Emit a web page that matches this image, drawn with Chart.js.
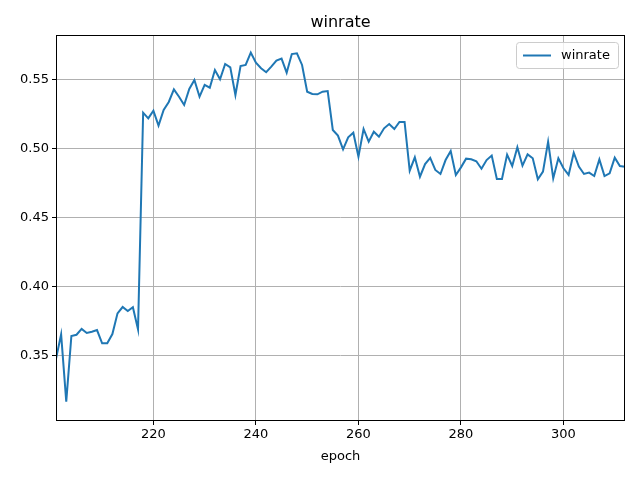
<!DOCTYPE html>
<html>
<head>
<meta charset="utf-8">
<script src="https://cdn.jsdelivr.net/npm/chart.js@4/dist/chart.umd.min.js"></script>
<style>
  body { margin: 0; background: #fff; }
  #wrap { width: 640px; height: 478px; }
</style>
</head>
<body>
<div id="wrap"><canvas id="myChart" width="640" height="478"></canvas></div>
<script>
const startEpoch = 201;
const winrate = [
  0.348, 0.3657, 0.3169, 0.3645, 0.3654, 0.3696, 0.3667, 0.3676, 0.3688, 0.3592,
  0.3592, 0.3659, 0.3809, 0.3855, 0.3826, 0.3853, 0.3693, 0.5263, 0.5222, 0.5278,
  0.5169, 0.5283, 0.5341, 0.5432, 0.5379, 0.5319, 0.5435, 0.55, 0.5379, 0.5464,
  0.5444, 0.5572, 0.5505, 0.5616, 0.5592, 0.5391, 0.5601, 0.5609, 0.5698, 0.5625,
  0.5585, 0.5556, 0.5597, 0.564, 0.5655, 0.5553, 0.5688, 0.5693, 0.5609, 0.5415,
  0.5399, 0.5396, 0.5415, 0.542, 0.5138, 0.5097, 0.4998, 0.5085, 0.5118, 0.4944,
  0.5145, 0.5053, 0.5125, 0.5089, 0.515, 0.5181, 0.5145, 0.5196, 0.5196, 0.4843,
  0.494, 0.4799, 0.4891, 0.4935, 0.4848, 0.4819, 0.492, 0.4986, 0.4812, 0.4867,
  0.493, 0.4925, 0.4911, 0.4857, 0.492, 0.4952, 0.4783, 0.4783, 0.4959, 0.4877,
  0.5012, 0.4879, 0.4961, 0.4933, 0.478, 0.4836, 0.5053, 0.4787, 0.4933, 0.486,
  0.4812, 0.4973, 0.4872, 0.4819, 0.4829, 0.4804, 0.4925, 0.4804, 0.4824, 0.4937,
  0.4877, 0.4872
];
const xTicks = [220, 240, 260, 280, 300];
const yTicks = [0.35, 0.40, 0.45, 0.50, 0.55];

const points = winrate.map((v, i) => ({ x: startEpoch + i, y: v }));
const FONT = "'DejaVu Sans', sans-serif";

// frame, title, axis label and legend drawn matplotlib-style
const decorations = {
  id: "decorations",
  afterDraw(chart) {
    const ctx = chart.ctx;
    const a = chart.chartArea;
    ctx.save();
    ctx.strokeStyle = "#000";
    ctx.lineWidth = 1;
    ctx.strokeRect(a.left + 0.5, a.top + 0.5, a.right - a.left - 1, a.bottom - a.top - 1);

    ctx.fillStyle = "#000";
    ctx.textAlign = "center";
    ctx.textBaseline = "alphabetic";
    ctx.font = "16px " + FONT;
    ctx.fillText("winrate", (a.left + a.right) / 2, 27);
    ctx.font = "13px " + FONT;
    ctx.fillText("epoch", (a.left + a.right) / 2, 460);

    // legend box
    const bx = 516, by = 42, bw = 102, bh = 26;
    ctx.fillStyle = "rgba(255,255,255,0.8)";
    ctx.strokeStyle = "#cccccc";
    ctx.beginPath();
    ctx.roundRect(bx + 0.5, by + 0.5, bw, bh, 3);
    ctx.fill();
    ctx.stroke();
    ctx.strokeStyle = "#1f77b4";
    ctx.lineWidth = 2;
    ctx.beginPath();
    ctx.moveTo(bx + 7, by + 13.5);
    ctx.lineTo(bx + 35, by + 13.5);
    ctx.stroke();
    ctx.fillStyle = "#000";
    ctx.textAlign = "left";
    ctx.textBaseline = "middle";
    ctx.fillText("winrate", bx + 45, by + 13.5);
    ctx.restore();
  },
};

const config = {
  type: "line",
  data: {
    datasets: [
      {
        label: "winrate",
        data: points,
        borderColor: "#1f77b4",
        borderWidth: 2,
        pointRadius: 0,
        tension: 0,
        fill: false,
      },
    ],
  },
  options: {
    responsive: false,
    animation: false,
    layout: { padding: { top: 35, right: 15, left: 0, bottom: 0 } },
    plugins: { legend: { display: false }, title: { display: false }, tooltip: { enabled: false } },
    scales: {
      x: {
        type: "linear",
        min: 201,
        max: 312,
        afterFit: (s) => { s.height = 57; },
        afterBuildTicks: (s) => { s.ticks = xTicks.map((v) => ({ value: v })); },
        grid: { color: "#b0b0b0", lineWidth: 1, tickColor: "#000", tickLength: 4, drawOnChartArea: true },
        border: { display: false },
        ticks: { color: "#000", font: { family: FONT, size: 13 }, maxRotation: 0, padding: 2 },
      },
      y: {
        min: 0.3029,
        max: 0.5826,
        afterFit: (s) => { s.width = 56; },
        afterBuildTicks: (s) => { s.ticks = yTicks.map((v) => ({ value: v })); },
        grid: { color: "#b0b0b0", lineWidth: 1, tickColor: "#000", tickLength: 4 },
        border: { display: false },
        ticks: { color: "#000", font: { family: FONT, size: 13 }, padding: 3, callback: (v) => v.toFixed(2) },
      },
    },
  },
  plugins: [decorations],
};

const myChart = new Chart(document.getElementById("myChart"), config);
</script>
</body>
</html>
